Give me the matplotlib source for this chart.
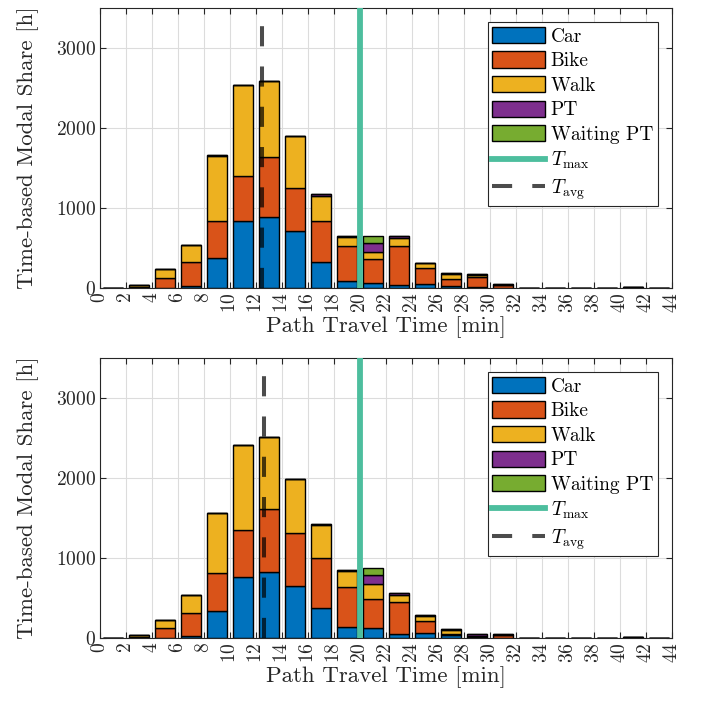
#!/usr/bin/env python3
"""Stacked time-based modal share per path travel time bin (two scenarios)."""

import matplotlib
matplotlib.use("Agg")
import matplotlib.pyplot as plt
from matplotlib.lines import Line2D
import numpy as np

# bin centres [min]
bins = [1, 3, 5, 7, 9, 11, 13, 15, 17, 19, 21, 23, 25, 27, 29, 31, 33, 35, 37, 39, 41, 43]
modes = ["Car", "Bike", "Walk", "PT", "Waiting PT"]

# scenario 1 (top)
car_a = [2, 0, 3, 20, 375, 838, 883, 708, 325, 85, 60, 33, 46, 29, 15, 2, 1, 1, 1, 1, 5, 1]
bike_a = [1, 8, 126, 300, 467, 566, 759, 542, 508, 435, 298, 492, 200, 88, 120, 38, 1, 1, 1, 1, 3, 1]
walk_a = [1, 28, 108, 217, 812, 1134, 941, 646, 323, 117, 94, 100, 62, 62, 30, 3, 1, 1, 1, 1, 5, 1]
pt_a = [1, 1, 0, 0, 10, 0, 0, 0, 15, 18, 112, 20, 5, 6, 6, 3, 1, 0, 0, 0, 5, 0]
wait_a = [0, 0, 0, 0, 0, 0, 0, 0, 0, 0, 81, 0, 0, 0, 0, 0, 0, 0, 0, 0, 0, 0]
tmax_a = 20.0
tavg_a = 12.5

# scenario 2 (bottom)
car_b = [2, 0, 3, 21, 338, 758, 829, 654, 379, 140, 129, 46, 58, 33, 8, 3, 1, 1, 1, 1, 5, 1]
bike_b = [1, 8, 126, 296, 470, 592, 784, 659, 617, 497, 362, 400, 150, 21, 12, 35, 1, 1, 1, 1, 3, 1]
walk_b = [1, 28, 100, 220, 750, 1058, 895, 670, 410, 200, 187, 90, 65, 46, 10, 5, 1, 1, 1, 1, 5, 1]
pt_b = [1, 1, 0, 0, 8, 5, 0, 0, 15, 8, 112, 25, 10, 8, 15, 3, 1, 0, 0, 0, 5, 0]
wait_b = [0, 0, 0, 0, 0, 0, 0, 0, 0, 0, 85, 0, 0, 0, 0, 0, 0, 0, 0, 0, 0, 0]
tmax_b = 20.0
tavg_b = 12.6

colors = ["#0072BD", "#D95319", "#EDB120", "#7E2F8E", "#77AC30"]
TMAX_COLOR = "#4DBE9E"
AX_COLOR = "#262626"

plt.rcParams["font.family"] = "serif"
plt.rcParams["font.serif"] = ["cmr10"]
plt.rcParams["mathtext.fontset"] = "cm"
plt.rcParams["axes.formatter.use_mathtext"] = True
plt.rcParams["axes.unicode_minus"] = False


def draw(ax, series, tmax, tavg):
    x = np.array(bins)
    bottom = np.zeros(len(bins))
    handles = []
    for vals, col, name in zip(series, colors, modes):
        vals = np.array(vals, dtype=float)
        h = ax.bar(x, vals, width=1.6, bottom=bottom, color=col,
                   edgecolor="k", linewidth=1.0, label=name, zorder=2)
        handles.append(h)
        bottom += vals

    ax.axvline(tmax, color=TMAX_COLOR, lw=4.2, zorder=3)
    ax.axvline(tavg, color="k", alpha=0.7, lw=2.9, dashes=(5, 5), zorder=4)

    ax.set_xlim(0, 44)
    ax.set_ylim(0, 3500)
    ax.set_xticks(range(0, 45, 2))
    ax.set_yticks([0, 1000, 2000, 3000])
    ax.tick_params(axis="x", labelrotation=90)
    ax.tick_params(direction="in", top=True, right=True, labelsize=14,
                   colors=AX_COLOR, length=4, width=0.8, pad=3)
    ax.grid(True, color="#dcdcdc", lw=0.8, zorder=0)
    ax.set_axisbelow(True)
    for sp in ax.spines.values():
        sp.set_color(AX_COLOR)
        sp.set_linewidth(0.8)
    ax.set_xlabel("Path Travel Time [min]", fontsize=16.5, color=AX_COLOR, labelpad=2)
    ax.set_ylabel("Time-based Modal Share [h]", fontsize=16.5, color=AX_COLOR, labelpad=12)

    handles.append(Line2D([], [], color=TMAX_COLOR, lw=4.2))
    handles.append(Line2D([], [], color="k", alpha=0.7, lw=2.9, dashes=(5, 5)))
    labels = modes + [r"$T_{\mathrm{max}}$", r"$T_{\mathrm{avg}}$"]
    leg = ax.legend(handles, labels, loc="upper right", bbox_to_anchor=(0.9755, 0.95),
                    borderaxespad=0, fontsize=14, handlelength=2.7, handleheight=0.9,
                    labelspacing=0.3, handletextpad=0.3, borderpad=0.25,
                    fancybox=False, framealpha=1, edgecolor=AX_COLOR)
    leg.get_frame().set_linewidth(0.8)


fig = plt.figure(figsize=(7.03, 7.02), dpi=100)
ax1 = fig.add_axes([0.1422, 0.5897, 0.8137, 0.3989])
ax2 = fig.add_axes([0.1422, 0.0912, 0.8137, 0.3989])

draw(ax1, [car_a, bike_a, walk_a, pt_a, wait_a], tmax_a, tavg_a)
draw(ax2, [car_b, bike_b, walk_b, pt_b, wait_b], tmax_b, tavg_b)

fig.savefig("out.png", dpi=100)
